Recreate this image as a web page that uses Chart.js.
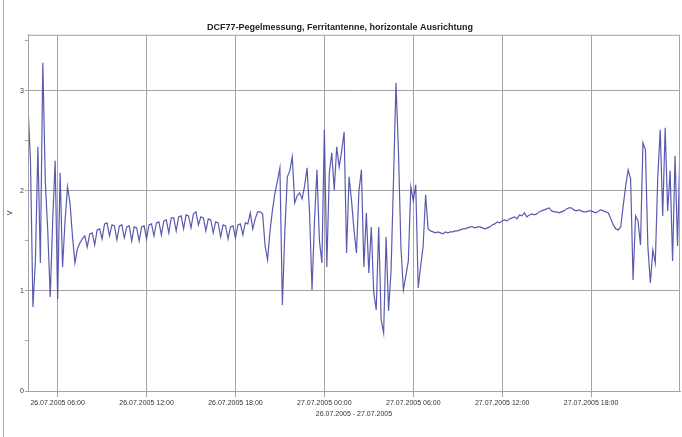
<!DOCTYPE html>
<html lang="de">
<head>
<meta charset="UTF-8">
<title>DCF77-Pegelmessung</title>
<script src="https://cdn.jsdelivr.net/npm/chart.js"></script>
<style>
    body { margin: 0; background: #fff; }
    .wrap { position: relative; width: 682px; height: 437px; }
    .wrap::before {
        content: ""; position: absolute; left: 3px; top: 0; bottom: 0;
        width: 1px; background: #a8a8a8;
    }
</style>
</head>
<body>
<div class="wrap"><canvas id="pegel" width="682" height="437"></canvas></div>
<script>
// one reading every 10 minutes, starting 26.07.2005 04:00 (hours counted from 26.07. 00:00)
const startHour = 4;
const stepHours = 1 / 6;

// 04:00 - 07:30, strong fluctuation in the morning
const startBurst = [2.85, 2.30, 0.84, 1.30, 2.44, 1.28, 3.28, 2.10, 1.60, 0.94,
    1.70, 2.30, 0.92, 2.18, 1.24, 1.70, 2.04, 1.88, 1.55, 1.28, 1.42, 1.48];

// 07:40 - 20:00, quiet daytime level with short dips
const morningCalm = [1.52, 1.55, 1.44, 1.57, 1.58, 1.46, 1.61, 1.62, 1.52, 1.67,
    1.68, 1.55, 1.66, 1.65, 1.51, 1.65, 1.66, 1.53, 1.64, 1.65,
    1.50, 1.64, 1.63, 1.50, 1.64, 1.65, 1.52, 1.66, 1.67, 1.55,
    1.68, 1.69, 1.56, 1.70, 1.71, 1.58, 1.73, 1.73, 1.60, 1.74,
    1.75, 1.62, 1.76, 1.75, 1.63, 1.77, 1.79, 1.66, 1.74, 1.73,
    1.60, 1.72, 1.71, 1.58, 1.69, 1.68, 1.54, 1.66, 1.65, 1.52,
    1.64, 1.65, 1.53, 1.66, 1.67, 1.56, 1.68, 1.67, 1.78, 1.62,
    1.72, 1.79, 1.79, 1.77, 1.45];

// 20:10 - 07:20, night time fading
const nightBurst = [1.31, 1.60, 1.81, 1.98, 2.10, 2.23, 0.86, 1.60, 2.14, 2.20,
    2.34, 1.88, 1.95, 1.98, 1.92, 2.05, 2.23, 1.78, 1.01, 1.70,
    2.21, 1.50, 1.28, 2.61, 1.24, 2.18, 2.38, 2.01, 2.44, 2.24,
    2.40, 2.59, 1.38, 2.14, 1.90, 1.61, 1.38, 2.00, 2.21, 1.24,
    1.78, 1.18, 1.64, 0.98, 0.81, 1.64, 0.71, 0.58, 1.54, 0.80,
    1.20, 2.11, 3.08, 2.40, 1.44, 1.01, 1.15, 1.30, 2.04, 1.90,
    2.06, 1.03, 1.25, 1.45, 1.96, 1.62, 1.60, 1.59, 1.58];

// 07:30 - 19:30, second quiet day
const dayCalm = [1.59, 1.58, 1.57, 1.59, 1.58, 1.59, 1.59, 1.60, 1.60, 1.61,
    1.62, 1.62, 1.63, 1.64, 1.64, 1.63, 1.64, 1.64, 1.63, 1.62,
    1.63, 1.64, 1.66, 1.67, 1.69, 1.68, 1.70, 1.71, 1.70, 1.72,
    1.73, 1.74, 1.72, 1.76, 1.75, 1.78, 1.74, 1.76, 1.77, 1.76,
    1.77, 1.79, 1.80, 1.81, 1.82, 1.83, 1.80, 1.79, 1.79, 1.78,
    1.79, 1.80, 1.82, 1.83, 1.83, 1.81, 1.80, 1.81, 1.80, 1.79,
    1.79, 1.80, 1.80, 1.79, 1.78, 1.80, 1.81, 1.80, 1.79, 1.78,
    1.72, 1.66, 1.62];

// 19:40 - 24:00, evening fluctuation
const eveningBurst = [1.61, 1.64, 1.85, 2.05, 2.21, 2.12, 1.11, 1.75, 1.70, 1.46,
    2.48, 2.41, 1.44, 1.08, 1.41, 1.28, 2.14, 2.61, 1.75, 2.63,
    1.80, 2.20, 1.30, 2.35, 1.45, 2.44];

const tickHours = [6, 12, 18, 24, 30, 36, 42];
const tickLabels = ['26.07.2005 06:00', '26.07.2005 12:00', '26.07.2005 18:00',
    '27.07.2005 00:00', '27.07.2005 06:00', '27.07.2005 12:00', '27.07.2005 18:00'];
const voltTicks = [0, 0.5, 1, 1.5, 2, 2.5, 3, 3.5];

const volts = [].concat(startBurst, morningCalm, nightBurst, dayCalm, eveningBurst);
const points = volts.map((v, i) => ({ x: startHour + i * stepHours, y: v }));

const gridGray = '#a4a4a4';

// frame around the plot area (top and right side)
const framePlugin = {
    id: 'frame',
    afterDraw(chart) {
        const { ctx, chartArea: a } = chart;
        ctx.save();
        ctx.strokeStyle = gridGray;
        ctx.lineWidth = 1;
        ctx.strokeRect(a.left + 0.5, a.top + 0.5, a.right - a.left - 1, a.bottom - a.top);
        ctx.restore();
    }
};

new Chart(document.getElementById('pegel'), {
    type: 'line',
    data: {
        datasets: [{
            data: points,
            borderColor: 'rgba(72, 72, 168, 0.9)',
            borderWidth: 1.2,
            pointRadius: 0,
            tension: 0
        }]
    },
    plugins: [framePlugin],
    options: {
        responsive: false,
        animation: false,
        layout: { padding: { left: 0, right: 2, top: 0, bottom: 0 } },
        plugins: {
            legend: { display: false },
            tooltip: { enabled: false },
            title: {
                display: true,
                text: 'DCF77-Pegelmessung, Ferritantenne, horizontale Ausrichtung',
                color: '#222',
                font: { family: 'Arial', size: 9, weight: 'bold' },
                padding: { top: 22, bottom: 2 }
            }
        },
        scales: {
            x: {
                type: 'linear',
                min: 4,
                max: 48,
                afterBuildTicks: axis => { axis.ticks = tickHours.map(v => ({ value: v })); },
                afterFit: axis => { axis.height = 46; },
                ticks: {
                    autoSkip: false,
                    maxRotation: 0,
                    padding: 2,
                    color: '#333',
                    font: { family: 'Arial', size: 7 },
                    callback: (v) => tickLabels[tickHours.indexOf(v)]
                },
                grid: { color: gridGray, tickLength: 6 },
                border: { color: gridGray },
                title: {
                    display: true,
                    text: '26.07.2005 - 27.07.2005',
                    color: '#333',
                    font: { family: 'Arial', size: 7 },
                    padding: { top: 0, bottom: 19 }
                }
            },
            y: {
                min: 0,
                max: 3.56,
                afterBuildTicks: axis => { axis.ticks = voltTicks.map(v => ({ value: v })); },
                afterFit: axis => { axis.width = 28; },
                ticks: {
                    padding: 1,
                    color: '#333',
                    font: { family: 'Arial', size: 7 },
                    callback: (v) => Number.isInteger(v) ? String(v) : ''
                },
                grid: {
                    color: ctx => Number.isInteger(ctx.tick && ctx.tick.value) ? gridGray : 'rgba(0,0,0,0)',
                    tickColor: gridGray,
                    tickLength: 3
                },
                border: { color: gridGray },
                title: {
                    display: true,
                    text: 'V',
                    color: '#333',
                    font: { family: 'Arial', size: 7 },
                    padding: { top: 6, bottom: 0 }
                }
            }
        }
    }
});
</script>
</body>
</html>
